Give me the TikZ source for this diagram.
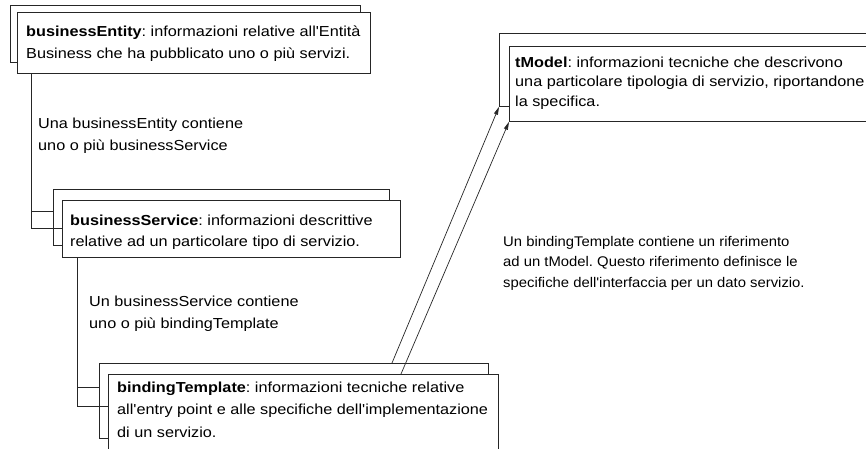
\documentclass[tikz,border=0pt]{standalone}
\usepackage{fontspec}
\usetikzlibrary{arrows.meta}
\newfontfamily\diafont{Liberation Sans}[FakeStretch=1.12]
\newfontfamily\notefont{Liberation Sans}[FakeStretch=1.06]
% multi-line text whose baseline is its first line
\newcommand\txtlines[3]{{\fontsize{#1}{#2}\selectfont\frenchspacing\begin{tabular}[t]{@{}l@{}}#3\end{tabular}}}
\newcommand\ap{\char"0027\relax}
\begin{document}
\begin{tikzpicture}[x=1pt,y=-1pt,
  card/.style={draw=black!85,line width=0.8pt,fill=white,inner sep=0pt,anchor=north west},
  label/.style={inner sep=0pt,anchor=base west,font=\diafont},
  link/.style={draw=black!85,line width=0.8pt},
  ref/.style={draw=black!85,line width=0.7pt,-{Triangle[length=8pt,width=4pt]}}]
\useasboundingbox (0,0) rectangle (866,448);
\fill[white] (0,0) rectangle (866,448);
\clip (0,0) rectangle (866,448);

% businessEntity stack
\node[card,minimum width=350pt,minimum height=57pt] (beB) at (10,5) {};
\node[card,minimum width=353pt,minimum height=61pt] (beF) at (17,12) {};
% businessService stack
\node[card,minimum width=336pt,minimum height=56pt] (bsB) at (53,189) {};
\node[card,minimum width=338pt,minimum height=57pt] (bsF) at (62,200) {};
% bindingTemplate stack
\node[card,minimum width=389pt,minimum height=75pt] (btB) at (99,363) {};
\node[card,minimum width=390pt,minimum height=90pt] (btF) at (108,374) {};
% tModel stack
\node[card,minimum width=390pt,minimum height=73pt] (tmB) at (499,33) {};
\node[card,minimum width=390pt,minimum height=75pt] (tmF) at (509,46) {};

% containment links
\coordinate (trunkA) at ([xshift=14pt]beF.south west);
\draw[link] (trunkA) |- ([yshift=-28pt]bsF.north west);
\draw[link] ([yshift=-22pt]bsB.north west -| trunkA) -- ([yshift=-22pt]bsB.north west);
\coordinate (trunkB) at ([xshift=15pt]bsF.south west);
\draw[link] (trunkB) |- ([yshift=-32pt]btF.north west);
\draw[link] ([yshift=-24pt]btB.north west -| trunkB) -- ([yshift=-24pt]btB.north west);

% references to the tModel
\draw[ref] ([xshift=293pt]btB.north west) -- (tmB.south west);
\draw[ref] ([xshift=293pt]btF.north west) -- (tmF.south west);

% texts
\node[label] (beT) at (26,36) {\txtlines{14.5}{22}{\textbf{businessEntity}: informazioni relative all\ap Entità\\Business che ha pubblicato uno o più servizi.}};
\node[label] (noteA) at (38,128) {\txtlines{14.5}{22}{Una businessEntity contiene\\uno o più businessService}};
\node[label] (bsT) at (70,225) {\txtlines{14.5}{21.5}{\textbf{businessService}: informazioni descrittive\\relative ad un particolare tipo di servizio.}};
\node[label] (noteB) at (89,306) {\txtlines{14.5}{22}{Un businessService contiene\\uno o più bindingTemplate}};
\node[label] (btT) at (117,392) {\txtlines{14.5}{22.5}{\textbf{bindingTemplate}: informazioni tecniche relative\\all\ap entry point e alle specifiche dell\ap implementazione\\di un servizio.}};
\node[label] (tmT) at (515,67) {\txtlines{14.5}{19.5}{\textbf{tModel}: informazioni tecniche che descrivono\\una particolare tipologia di servizio, riportandone\\la specifica.}};
\node[label,font=\notefont] (noteC) at (503,246) {\txtlines{14}{20.5}{Un bindingTemplate contiene un riferimento\\ad un tModel. Questo riferimento definisce le\\specifiche dell\ap interfaccia per un dato servizio.}};
\end{tikzpicture}
\end{document}
